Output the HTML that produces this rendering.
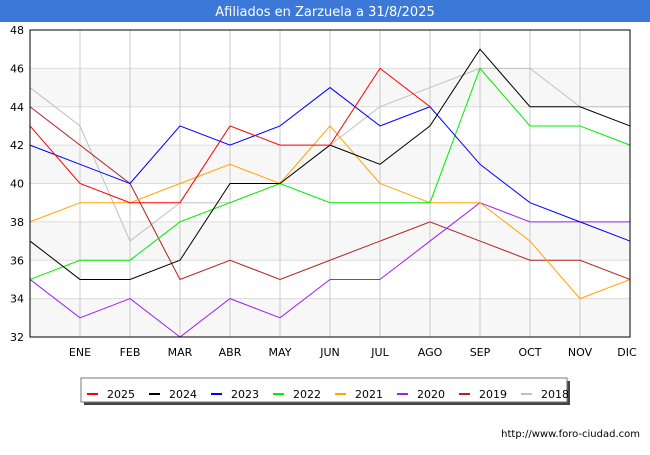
<!DOCTYPE html>
<html><head><meta charset="utf-8"><style>
body{margin:0;background:#fff;font-family:"Liberation Sans","DejaVu Sans",sans-serif}
svg text{font-family:"DejaVu Sans","Liberation Sans",sans-serif}
</style></head><body>
<svg id="c" width="650" height="450" xmlns="http://www.w3.org/2000/svg">
<rect x="0" y="0" width="650" height="22" fill="#3b78d8"/>
<text x="325" y="16" font-size="13" fill="#fff" text-anchor="middle">Afiliados en Zarzuela a 31/8/2025</text>
<g id="grid"></g>
<g id="lines"></g>
<rect x="30" y="30" width="600" height="307" fill="none" stroke="#000" stroke-width="1"/>
<g id="legend"></g>
<text x="640" y="437" font-size="10" fill="#000" text-anchor="end">http://www.foro-ciudad.com</text>
</svg>
<script>
const months=["","ENE","FEB","MAR","ABR","MAY","JUN","JUL","AGO","SEP","OCT","NOV","DIC"];
const yTicks=[32,34,36,38,40,42,44,46,48];
const seriesNames=["2025","2024","2023","2022","2021","2020","2019","2018"];
const colors=["#ff0000","#000000","#0000ff","#00ee00","#ffa500","#a020f0","#b22222","#c0c0c0"];
const s2025=[43,40,39,39,43,42,42,46,44];
const s2024=[37,35,35,36,40,40,42,41,43,47,44,44,43];
const s2023=[42,41,40,43,42,43,45,43,44,41,39,38,37];
const s2022=[35,36,36,38,39,40,39,39,39,46,43,43,42];
const s2021=[38,39,39,40,41,40,43,40,39,39,37,34,35];
const s2020=[35,33,34,32,34,33,35,35,37,39,38,38,38];
const s2019=[44,42,40,35,36,35,36,37,38,37,36,36,35];
const s2018=[45,43,37,39,39,40,42,44,45,46,46,44,44];
const allSeries=[s2025,s2024,s2023,s2022,s2021,s2020,s2019,s2018];
const NS="http://www.w3.org/2000/svg";
const X=i=>30+i*50, Y=v=>337-(v-32)*307/16;
const grid=document.getElementById('grid');
function mk(tag,attrs,parent){const e=document.createElementNS(NS,tag);for(const k in attrs)e.setAttribute(k,attrs[k]);parent.appendChild(e);return e;}
for(let k=0;k<yTicks.length-1;k++){
  if(k%2===0){const r=mk('rect',{x:30,y:Y(yTicks[k+1]),width:600,height:Y(yTicks[k])-Y(yTicks[k+1]),fill:'#f7f7f7'},grid);
  
  }
}
yTicks.forEach(v=>{
  const l=mk('line',{x1:30,x2:630,y1:Y(v),y2:Y(v),stroke:'#dcdcdc'},grid);
  
  
  const t=mk('text',{x:24,y:Y(v)+4,'font-size':11,'text-anchor':'end',fill:'#000'},grid);t.textContent=v;
  
  
});
months.forEach((m,i)=>{
  if(i===0)return;
  const l=mk('line',{x1:X(i),x2:X(i),y1:30,y2:337,stroke:'#c8c8c8'},grid);
  
  
  const t=mk('text',{x:X(i)-(i===12?3:0),y:356,'font-size':11,'text-anchor':'middle',fill:'#000'},grid);t.textContent=m;
  
  
});
const lines=document.getElementById('lines');
for(let s=allSeries.length-1;s>=0;s--){
  const pts=allSeries[s].map((v,i)=>X(i)+','+Y(v)).join(' ');
  const p=mk('polyline',{points:pts,fill:'none',stroke:colors[s],'stroke-width':1},lines);
  
  
}
const lg=document.getElementById('legend');
mk('rect',{x:84,y:381,width:486,height:24,fill:'#444'},lg);
const box=mk('rect',{x:81,y:378,width:486,height:24,fill:'#fff',stroke:'#777'},lg);


seriesNames.forEach((n,i)=>{
  const x=87+i*62;
  const l=mk('line',{x1:x,x2:x+11,y1:394,y2:394,stroke:colors[i],'stroke-width':2},lg);
  
  
  const t=mk('text',{x:x+20,y:398,'font-size':11,fill:'#000'},lg);t.textContent=n;
  
  
});
</script>
</body></html>
